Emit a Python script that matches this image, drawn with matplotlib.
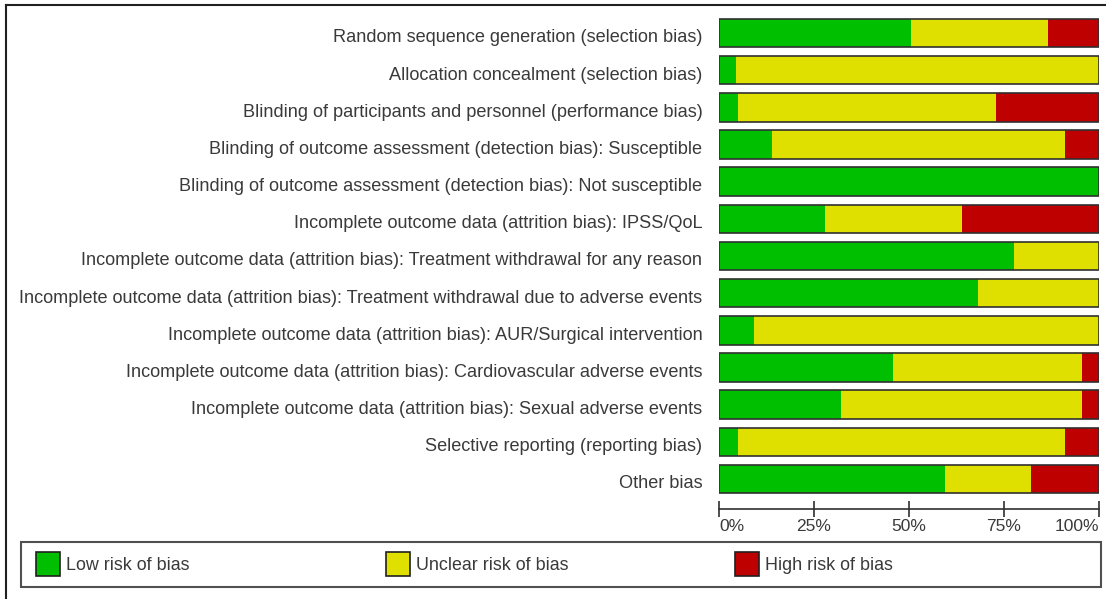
import matplotlib
matplotlib.use("Agg")
import matplotlib.pyplot as plt
from matplotlib.patches import Rectangle
from matplotlib.lines import Line2D
from matplotlib.transforms import ScaledTranslation
import numpy as np

plt.rcParams["font.family"] = ["Liberation Sans", "DejaVu Sans"]

domains = [
    "Random sequence generation (selection bias)",
    "Allocation concealment (selection bias)",
    "Blinding of participants and personnel (performance bias)",
    "Blinding of outcome assessment (detection bias): Susceptible",
    "Blinding of outcome assessment (detection bias): Not susceptible",
    "Incomplete outcome data (attrition bias): IPSS/QoL",
    "Incomplete outcome data (attrition bias): Treatment withdrawal for any reason",
    "Incomplete outcome data (attrition bias): Treatment withdrawal due to adverse events",
    "Incomplete outcome data (attrition bias): AUR/Surgical intervention",
    "Incomplete outcome data (attrition bias): Cardiovascular adverse events",
    "Incomplete outcome data (attrition bias): Sexual adverse events",
    "Selective reporting (reporting bias)",
    "Other bias",
]
# percentages
low     = [50.4, 4.6, 5.1, 13.9, 100.0, 27.9, 77.5, 68.2, 9.3, 45.7, 32.2, 5.1, 59.6]
unclear = [36.1, 95.4, 67.8, 77.2, 0.0, 36.0, 22.5, 31.8, 90.7, 49.9, 63.4, 86.0, 22.6]
high    = [13.5, 0.0, 27.1, 8.9, 0.0, 36.1, 0.0, 0.0, 0.0, 4.4, 4.4, 8.9, 17.8]

risk_names = ["Low risk of bias", "Unclear risk of bias", "High risk of bias"]
risk_colors = ["#00bf00", "#dfdf00", "#bf0000"]
ticks = [0, 25, 50, 75, 100]
tick_labels = ["0%", "25%", "50%", "75%", "100%"]

W, H = 1106, 599
fig = plt.figure(figsize=(W / 100, H / 100), dpi=100)

# axes placed in pixel terms
x0, x1 = 719, 1099
row_top, row_pitch = 33, (479 - 33) / 12
y_top = row_top - 0.6 * row_pitch
y_bot = 479 + 0.6 * row_pitch
ax = fig.add_axes([x0 / W, 1 - y_bot / H, (x1 - x0) / W, (y_bot - y_top) / H])

y = np.arange(len(domains))
h = 0.77
left = np.zeros(len(domains))
for vals, col in zip([low, unclear, high], risk_colors):
    ax.barh(y, vals, left=left, height=h, color=col, edgecolor="none")
    left += np.array(vals)
ax.barh(y, 100, height=h, fill=False, edgecolor="#303030", linewidth=1.2)

ax.set_xlim(0, 100)
ax.set_ylim(len(domains) - 0.4, -0.6)
ax.set_yticks(y)
ax.set_yticklabels(domains, fontsize=13.1, color="#3a3a3a")
ax.tick_params(axis="y", length=0, pad=12)
# labels sit a little below the bar centres in the original
shift = ScaledTranslation(0, -3 / 100, fig.dpi_scale_trans)
for lab in ax.get_yticklabels():
    lab.set_transform(lab.get_transform() + shift)

for s in ["top", "right", "left"]:
    ax.spines[s].set_visible(False)
ax.spines["bottom"].set_position(("outward", (509 - y_bot) * 0.72))
ax.spines["bottom"].set_color("#303030")
ax.spines["bottom"].set_linewidth(1.2)
ax.set_xticks(ticks)
ax.set_xticklabels(tick_labels, fontsize=12.5, color="#3a3a3a")
ax.tick_params(axis="x", direction="inout", length=12, width=1.2, color="#303030", pad=1)
labs = ax.get_xticklabels()
labs[0].set_horizontalalignment("left")
labs[-1].set_horizontalalignment("right")

# outer frame (left and top edges)
fig.add_artist(Line2D([6 / W, 6 / W], [0, 1 - 4.5 / H], color="#202020", lw=1.5))
fig.add_artist(Line2D([6 / W, 1], [1 - 4.5 / H, 1 - 4.5 / H], color="#202020", lw=1.5))

# legend box
lx0, lx1, ly0, ly1 = 21, 1101, 542, 587
fig.add_artist(Rectangle((lx0 / W, 1 - ly1 / H), (lx1 - lx0) / W, (ly1 - ly0) / H,
                         fill=False, edgecolor="#505050", lw=1.5, transform=fig.transFigure))
for i, (name, col) in enumerate(zip(risk_names, risk_colors)):
    sx = 36 + i * 349.5
    fig.add_artist(Rectangle((sx / W, 1 - 576 / H), 24 / W, 24 / H, facecolor=col,
                             edgecolor="#202020", lw=1.2, transform=fig.transFigure))
    fig.text((sx + 30) / W, 1 - 565 / H, name, fontsize=12.9, color="#3a3a3a",
             va="center", ha="left")

fig.savefig("out.png", dpi=100)
